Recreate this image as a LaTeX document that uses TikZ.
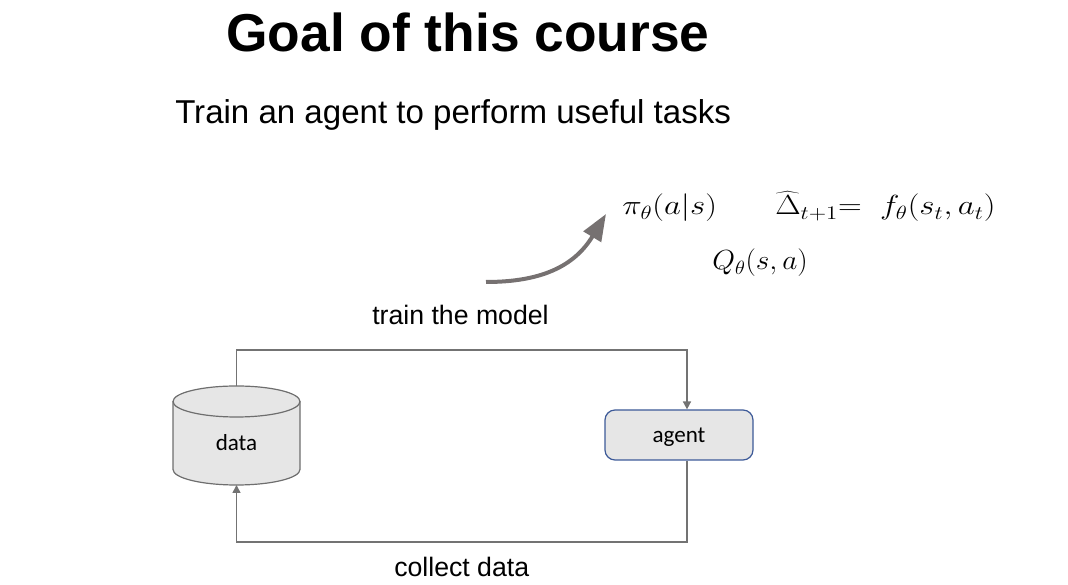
\documentclass[tikz,border=0pt]{standalone}
\usepackage{fontspec}
\setmainfont{Liberation Sans}
\newfontfamily\calib{Carlito}
\usetikzlibrary{arrows.meta,calc}
\definecolor{linegray}{HTML}{737373}
\definecolor{arrowgray}{HTML}{767171}
\definecolor{boxfill}{HTML}{E6E6E6}
\definecolor{boxblue}{HTML}{3D5A98}
\definecolor{cylline}{HTML}{6E6E6E}
\begin{document}
\begin{tikzpicture}[x=0.75pt,y=0.75pt,
  conn/.style={draw=linegray,line width=1.6pt*0.75,-{Triangle[length=6pt,width=6pt]}},
  lbl/.style={inner sep=0pt,font=\fontsize{20}{24}\selectfont},
  mth/.style={inner sep=0pt,font=\fontsize{21.5}{25}\selectfont},
  boxtxt/.style={inner sep=0pt,font=\calib\fontsize{17.3}{20}\selectfont},
  agentbox/.style={draw=boxblue,fill=boxfill,rounded corners=7.5pt,line width=0.9pt,minimum width=148*0.75pt,minimum height=50*0.75pt,inner sep=0pt}]
\useasboundingbox (0,0) rectangle (1068,585);
% title
\node[inner sep=0pt,anchor=base,font=\bfseries\fontsize{40}{48}\selectfont] (title) at (468,533) {Goal of this course};
\node[inner sep=0pt,anchor=base west,font=\fontsize{24.8}{30}\selectfont] (sub) at (175,461) {Train an agent to perform useful tasks};
% math
\node[mth,anchor=base west] (pi) at (622,370) {\scalebox{1.19}[1]{$\pi_\theta(a|s)$}};
\node[mth,anchor=base west] (delta) at (775,370) {\scalebox{1.19}[1]{$\widehat{\Delta}_{t+1}{=}\;\; f_\theta(s_t,a_t)$}};
\node[mth,anchor=base west] (q) at (712,315) {\scalebox{1.06}[1]{$Q_\theta(s,a)$}};
% curved arrow
\coordinate (cstart) at (486,303);
\coordinate (ctip) at (606,371);
\draw[draw=arrowgray,line width=3pt,-{Triangle[length=20pt,width=15pt]}] (cstart) .. controls (540,303) and (574,318) .. (ctip);
% labels
\node[lbl,anchor=base west] (train) at (372,260) {train the model};
\node[lbl,anchor=base west] (collect) at (394,8) {collect data};
% cylinder
\coordinate (datatop) at (236.5,199);
\coordinate (databot) at (236.5,100);
\fill[boxfill] (173,183.5) -- (173,115.5) arc (180:360:63.5 and 15.5) -- (300,183.5) arc (0:180:63.5 and 15.5) -- cycle;
\draw[cylline,line width=0.9pt] (173,183.5) -- (173,115.5) arc (180:360:63.5 and 15.5) -- (300,183.5);
\draw[cylline,line width=0.9pt] (236.5,183.5) ellipse (63.5 and 15.5);
\node[boxtxt] (data) at (236.5,142) {data};
% agent
\node[agentbox] (agentb) at (679,150) {};
\node[boxtxt] (agent) at (679,148) {agent};
% connectors
\draw[conn] (datatop) -- (236.5,235) -| ($(agentb.north)+(8,0)$);
\draw[conn] ($(agentb.south)+(8,0)$) -- (687,43) -| (databot);
\end{tikzpicture}
\end{document}
